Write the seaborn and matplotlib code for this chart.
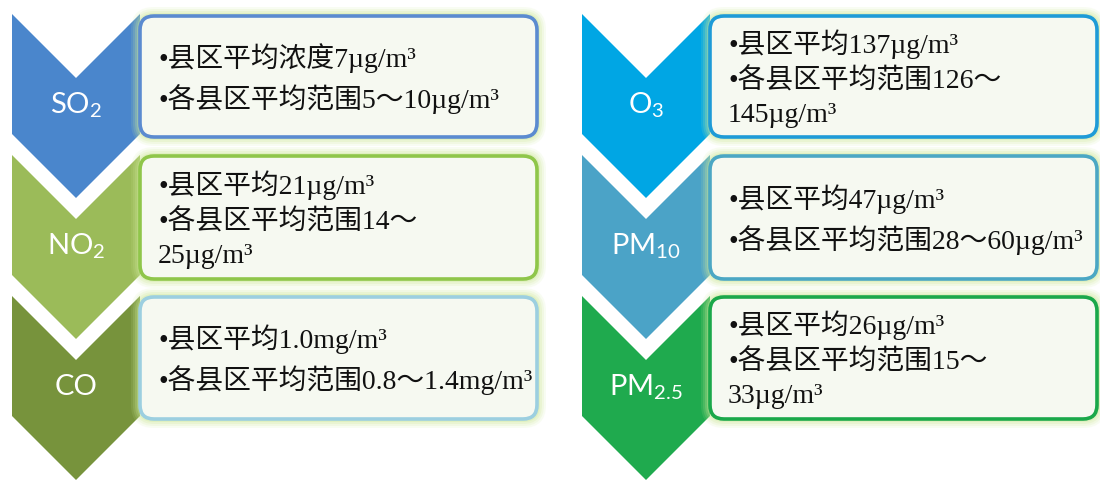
import matplotlib
matplotlib.use("Agg")
import matplotlib.pyplot as plt
import seaborn as sns
from matplotlib.patches import Polygon, FancyBboxPatch

sns.set_theme(style="white")
plt.rcParams['mathtext.fontset'] = 'custom'
plt.rcParams['mathtext.rm'] = 'Lato'
plt.rcParams['mathtext.it'] = 'Lato'

# ---- data ----
pollutant_names = ["SO", "NO", "CO", "O", "PM", "PM"]
pollutant_subs = ["2", "2", "", "3", "10", "2.5"]
summary_lines = [
    "•县区平均浓度7µg/m³\n•各县区平均范围5～10µg/m³",
    "•县区平均21µg/m³\n•各县区平均范围14～\n25µg/m³",
    "•县区平均1.0mg/m³\n•各县区平均范围0.8～1.4mg/m³",
    "•县区平均137µg/m³\n•各县区平均范围126～\n145µg/m³",
    "•县区平均47µg/m³\n•各县区平均范围28～60µg/m³",
    "•县区平均26µg/m³\n•各县区平均范围15～\n33µg/m³",
]
chevron_colors = ["#4a86cc", "#9bbb59", "#77933c", "#00a6e4", "#4ba3c7", "#1faa4e"]
border_colors = ["#5b8bd0", "#8fc64a", "#9ccfe0", "#1e9bd7", "#4ba7c4", "#1aa84a"]

# ---- layout ----
W, H = 1100, 485
fig = plt.figure(figsize=(W / 100, H / 100), dpi=100)
ax = fig.add_axes([0, 0, 1, 1])
ax.set_xlim(0, W)
ax.set_ylim(H, 0)
ax.axis("off")

col_x = [12, 582]
box_x = [(140, 537), (710, 1097)]
row_top = [15, 156, 297]
box_top = [17, 157, 298]
box_bot = [138, 280, 420]
side = 120
half = 64

for i in range(6):
    col = i // 3
    row = i % 3
    x0 = col_x[col]
    x1 = x0 + 2 * half
    xc = x0 + half
    t = row_top[row]
    pts = [(x0, t), (xc, t + half), (x1, t), (x1, t + side),
           (xc, t + side + half), (x0, t + side)]
    ax.add_patch(Polygon(pts, closed=True, facecolor=chevron_colors[i],
                         edgecolor="none", zorder=1))
    label = pollutant_names[i]
    if pollutant_subs[i]:
        label = label + r"$_{\mathrm{" + pollutant_subs[i] + "}}$"
    ax.text(xc, t + 90, label, ha="center", va="center", color="white",
            fontsize=21, family="Lato", zorder=5)

    bx0, bx1 = box_x[col]
    by0, by1 = box_top[row], box_bot[row]
    # glow
    for k, a in [(9, 0.12), (7, 0.16), (5, 0.22), (3, 0.32)]:
        ax.add_patch(FancyBboxPatch((bx0 - k, by0 - k), bx1 - bx0 + 2 * k,
                                    by1 - by0 + 2 * k,
                                    boxstyle="round,pad=0,rounding_size=%d" % (14 + k),
                                    facecolor="#cde99a", edgecolor="none",
                                    alpha=a, zorder=2))
    ax.add_patch(FancyBboxPatch((bx0, by0), bx1 - bx0, by1 - by0,
                                boxstyle="round,pad=0,rounding_size=14",
                                facecolor="#f6f9f1", edgecolor=border_colors[i],
                                linewidth=2.6, zorder=3))
    ax.text(bx0 + 18, (by0 + by1) / 2 + 1, summary_lines[i], ha="left",
            va="center", fontsize=20, linespacing=1.45,
            family=["Liberation Serif", "Noto Sans CJK SC"], color="#111111",
            zorder=5)

fig.savefig("out.png", dpi=100, facecolor="white")
